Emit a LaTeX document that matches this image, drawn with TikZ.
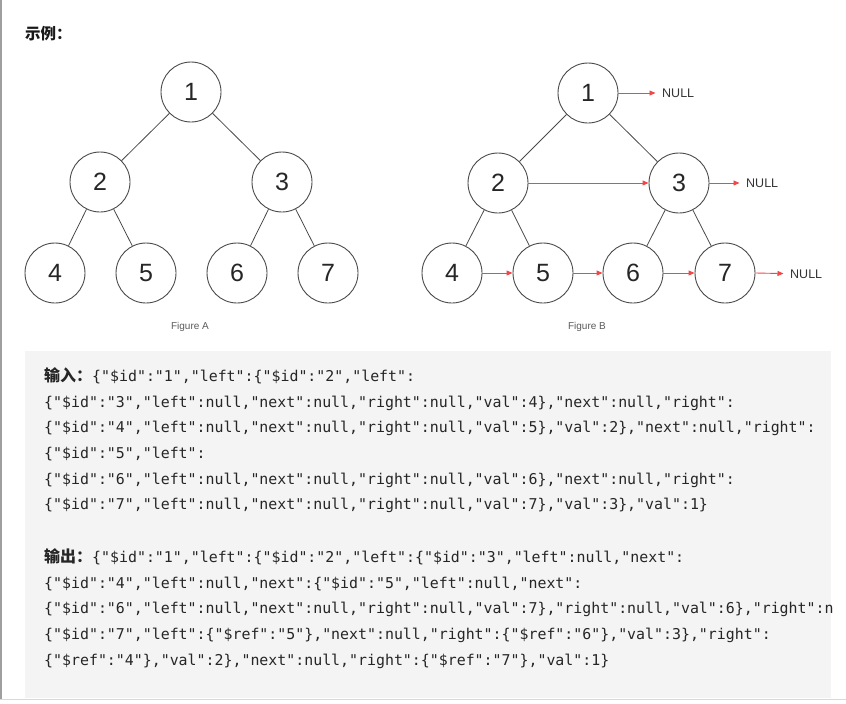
\documentclass[tikz,border=0pt]{standalone}
\usepackage{fontspec}
\usepackage{xcolor}
\usetikzlibrary{arrows.meta}
\setmonofont{DejaVu Sans Mono}
\newfontfamily\arialfont{Liberation Sans}
\newfontfamily\cjkfont{Noto Sans CJK SC}
\definecolor{treegray}{HTML}{4A4A4A}
\definecolor{nullred}{HTML}{F04848}
\definecolor{boxgray}{HTML}{F4F4F4}
\definecolor{capgray}{HTML}{5A5A5A}

\begin{document}
\begin{tikzpicture}[x=1pt,y=-1pt,
  treenode/.style={circle, draw=treegray, line width=0.9pt, minimum size=60pt, inner sep=0pt,
    font=\arialfont\fontsize{25}{25}\selectfont, text=black!85},
  treeedge/.style={draw=treegray, line width=0.8pt},
  nextarrow/.style={draw=nullred, line width=0.9pt, -{Triangle[length=6pt,width=5pt]}},
  nulltext/.style={anchor=west, inner sep=0pt, inner xsep=6.5pt, text=black!80,
    font=\arialfont\fontsize{12.5}{14}\selectfont},
  figcaption/.style={text=capgray, font=\arialfont\fontsize{10}{12}\selectfont},
  jsontext/.style={anchor=base west, inner sep=0pt, text=black!85,
    font=\ttfamily\fontsize{14.9}{18}\selectfont}]
  \useasboundingbox (0,0) rectangle (846,704);
  % page frame and code box
  \fill[boxgray] (25,351) rectangle (831,698);
  \draw[gray!30, line width=1pt] (0,699.5) -- (846,699.5);
  \draw[gray!75, line width=2pt] (1,0) -- (1,699);
  \node[anchor=base west, inner sep=0pt, text=black!90] (title) at (25,39)
    {\cjkfont\bfseries\fontsize{15.5}{18}\selectfont 示例：};

  % Figure A
  \node[treenode] (a1) at (191,92) {1};
  \node[treenode] (a2) at (100,182) {2};
  \node[treenode] (a3) at (282,182) {3};
  \node[treenode] (a4) at (55,273) {4};
  \node[treenode] (a5) at (146,273) {5};
  \node[treenode] (a6) at (237,273) {6};
  \node[treenode] (a7) at (328,273) {7};
  \draw[treeedge] (a1) -- (a2);
  \draw[treeedge] (a1) -- (a3);
  \draw[treeedge] (a2) -- (a4);
  \draw[treeedge] (a2) -- (a5);
  \draw[treeedge] (a3) -- (a6);
  \draw[treeedge] (a3) -- (a7);
  \node[figcaption] (capa) at (190,327) {Figure A};

  % Figure B
  \node[treenode] (b1) at (588,93) {1};
  \node[treenode] (b2) at (498,183) {2};
  \node[treenode] (b3) at (679,183) {3};
  \node[treenode] (b4) at (452,273) {4};
  \node[treenode] (b5) at (543,273) {5};
  \node[treenode] (b6) at (633,273) {6};
  \node[treenode] (b7) at (725,273) {7};
  \draw[treeedge] (b1) -- (b2);
  \draw[treeedge] (b1) -- (b3);
  \draw[treeedge] (b2) -- (b4);
  \draw[treeedge] (b2) -- (b5);
  \draw[treeedge] (b3) -- (b6);
  \draw[treeedge] (b3) -- (b7);
  \node[nulltext] (n1) at (655.5,93) {NULL};
  \node[nulltext] (n3) at (739.5,183) {NULL};
  \node[nulltext] (n7) at (783.5,274) {NULL};
  \draw[nextarrow] (b1) -- (n1);
  \draw[nextarrow] (b2) -- (b3);
  \draw[nextarrow] (b3) -- (n3);
  \draw[nextarrow] (b4) -- (b5);
  \draw[nextarrow] (b5) -- (b6);
  \draw[nextarrow] (b6) -- (b7);
  \draw[nextarrow] (b7.east) -- (n7);
  \node[figcaption] (capb) at (587,327) {Figure B};

  % input
  \node[jsontext] (in1) at (44,381) {{\cjkfont\bfseries\fontsize{16}{18}\selectfont 输入：}\{"\$id":"1","left":\{"\$id":"2","left":};
  \node[jsontext] (in2) at (44,407) {\{"\$id":"3","left":null,"next":null,"right":null,"val":4\},"next":null,"right":};
  \node[jsontext] (in3) at (44,432) {\{"\$id":"4","left":null,"next":null,"right":null,"val":5\},"val":2\},"next":null,"right":};
  \node[jsontext] (in4) at (44,458) {\{"\$id":"5","left":};
  \node[jsontext] (in5) at (44,484) {\{"\$id":"6","left":null,"next":null,"right":null,"val":6\},"next":null,"right":};
  \node[jsontext] (in6) at (44,509) {\{"\$id":"7","left":null,"next":null,"right":null,"val":7\},"val":3\},"val":1\}};

  % output
  \node[jsontext] (out1) at (44,562) {{\cjkfont\bfseries\fontsize{16}{18}\selectfont 输出：}\{"\$id":"1","left":\{"\$id":"2","left":\{"\$id":"3","left":null,"next":};
  \node[jsontext] (out2) at (44,588) {\{"\$id":"4","left":null,"next":\{"\$id":"5","left":null,"next":};
  \node[jsontext] (out3) at (44,613) {\{"\$id":"6","left":null,"next":null,"right":null,"val":7\},"right":null,"val":6\},"right":n};
  \node[jsontext] (out4) at (44,639) {\{"\$id":"7","left":\{"\$ref":"5"\},"next":null,"right":\{"\$ref":"6"\},"val":3\},"right":};
  \node[jsontext] (out5) at (44,665) {\{"\$ref":"4"\},"val":2\},"next":null,"right":\{"\$ref":"7"\},"val":1\}};
\end{tikzpicture}
\end{document}
